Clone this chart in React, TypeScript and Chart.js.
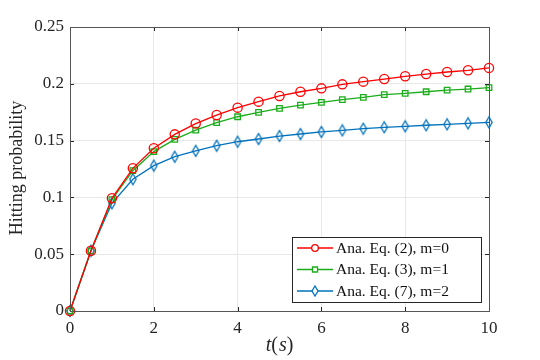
import React, { useEffect, useRef } from "react";
import { Chart, registerables } from "chart.js";
Chart.register(...registerables);

const tValues = [0, 0.5, 1, 1.5, 2, 2.5, 3, 3.5, 4, 4.5, 5, 5.5, 6, 6.5, 7, 7.5, 8, 8.5, 9, 9.5, 10];
const eq2m0 = [0, 0.053, 0.0992, 0.1256, 0.1432, 0.1555, 0.165, 0.1725, 0.179, 0.1843, 0.1893, 0.193, 0.196, 0.1995, 0.2019, 0.2042, 0.2066, 0.2086, 0.2104, 0.2119, 0.214];
const eq3m1 = [0, 0.053, 0.098, 0.1235, 0.1403, 0.1511, 0.1593, 0.1658, 0.171, 0.1749, 0.1784, 0.1813, 0.1837, 0.186, 0.188, 0.1904, 0.1916, 0.193, 0.1945, 0.1954, 0.1966];
const eq7m2 = [0, 0.053, 0.0948, 0.116, 0.128, 0.1358, 0.141, 0.1455, 0.149, 0.1514, 0.154, 0.1558, 0.1576, 0.159, 0.1605, 0.1617, 0.1626, 0.1635, 0.1643, 0.1652, 0.166];
const seriesLabels = ["Ana. Eq. (2), m=0", "Ana. Eq. (3), m=1", "Ana. Eq. (7), m=2"];
const yTicks = [0, 0.05, 0.1, 0.15, 0.2, 0.25];
const xTicks = [0, 2, 4, 6, 8, 10];

const SERIF = "'Liberation Serif', 'DejaVu Serif', serif";
const AXIS = "#262626";
const RED = "#ff0000";
const GREEN = "#1aad1a";
const BLUE = "#0072bd";

function makeDiamond(color: string): HTMLCanvasElement {
  const c = document.createElement("canvas");
  c.width = 10;
  c.height = 14;
  const g = c.getContext("2d")!;
  g.strokeStyle = color;
  g.lineWidth = 1.3;
  g.beginPath();
  g.moveTo(5, 1.5); g.lineTo(8.2, 7); g.lineTo(5, 12.5); g.lineTo(1.8, 7); g.closePath();
  g.stroke();
  return c;
}

const boxPlugin = {
  id: "matlabBox",
  afterDraw(chart: any) {
    const { ctx, chartArea: a, scales } = chart;
    ctx.save();
    ctx.strokeStyle = AXIS;
    ctx.lineWidth = 1;
    const tl = 4;
    ctx.beginPath();
    for (const v of xTicks) {
      const x = Math.round(scales.x.getPixelForValue(v)) + 0.5;
      ctx.moveTo(x, a.bottom); ctx.lineTo(x, a.bottom - tl);
      ctx.moveTo(x, a.top); ctx.lineTo(x, a.top + tl);
    }
    for (const v of yTicks) {
      const y = Math.round(scales.y.getPixelForValue(v)) + 0.5;
      ctx.moveTo(a.left, y); ctx.lineTo(a.left + tl, y);
      ctx.moveTo(a.right, y); ctx.lineTo(a.right - tl, y);
    }
    ctx.stroke();
    ctx.strokeStyle = "#555";
    ctx.strokeRect(Math.round(a.left) + 0.5, Math.round(a.top) + 0.5, Math.round(a.right - a.left), Math.round(a.bottom - a.top));

    // y title
    ctx.fillStyle = AXIS;
    ctx.font = `18px ${SERIF}`;
    ctx.textAlign = "center";
    ctx.textBaseline = "middle";
    ctx.translate(17, 168);
    ctx.rotate(-Math.PI / 2);
    ctx.fillText("Hitting probability", 0, 0);
    ctx.setTransform(1, 0, 0, 1, 0, 0);

    // x title t(s)
    const parts: [string, boolean][] = [["t", true], ["(", false], ["s", true], [")", false]];
    let total = 0;
    const widths = parts.map(([s, it]) => {
      ctx.font = `${it ? "italic " : ""}20px ${SERIF}`;
      const w = ctx.measureText(s).width + (s === "(" ? 1 : 0);
      total += w;
      return w;
    });
    let xx = (a.left + a.right) / 2 - total / 2;
    ctx.textAlign = "left";
    ctx.textBaseline = "middle";
    parts.forEach(([s, it], i) => {
      ctx.font = `${it ? "italic " : ""}20px ${SERIF}`;
      ctx.fillText(s, xx, 346);
      xx += widths[i];
    });

    // legend
    const lx = 292.5, ly = 237.5, lw = 189, lh = 65;
    ctx.fillStyle = "#fff";
    ctx.fillRect(lx, ly, lw, lh);
    ctx.strokeStyle = AXIS;
    ctx.lineWidth = 1;
    ctx.strokeRect(lx, ly, lw, lh);
    const rows = [248, 269.5, 291];
    const colors = [RED, GREEN, BLUE];
    colors.forEach((col, i) => {
      const y = rows[i];
      ctx.strokeStyle = col;
      ctx.lineWidth = 1.3;
      ctx.beginPath();
      ctx.moveTo(297, y); ctx.lineTo(333, y);
      ctx.stroke();
      ctx.beginPath();
      if (i === 0) {
        ctx.arc(315, y, 3.3, 0, Math.PI * 2);
      } else if (i === 1) {
        ctx.rect(312.5, y - 2.5, 5, 5);
      } else {
        ctx.moveTo(315, y - 5); ctx.lineTo(318, y); ctx.lineTo(315, y + 5); ctx.lineTo(312, y); ctx.closePath();
      }
      ctx.fillStyle = "#fff";
      ctx.fill();
      ctx.stroke();
      ctx.fillStyle = "#111";
      ctx.font = `15.5px ${SERIF}`;
      ctx.textAlign = "left";
      ctx.textBaseline = "middle";
      ctx.fillText(seriesLabels[i], 336, y + 0.5);
    });
    ctx.restore();
  },
};

export default function App() {
  const ref = useRef<HTMLCanvasElement>(null);
  useEffect(() => {
    if (!ref.current) return;
    const mk = (vals: number[]) => tValues.map((t, i) => ({ x: t, y: vals[i] }));
    const diamond = makeDiamond(BLUE);
    const chart = new Chart(ref.current, {
      type: "line",
      data: {
        datasets: [
          { label: seriesLabels[0], data: mk(eq2m0), borderColor: RED, backgroundColor: "rgba(255,255,255,0)", pointStyle: "circle", pointRadius: 4.6, pointBorderWidth: 1.3, borderWidth: 1.3, clip: false },
          { label: seriesLabels[1], data: mk(eq3m1), borderColor: GREEN, backgroundColor: "rgba(255,255,255,0)", pointStyle: "rect", pointRadius: 3.9, pointBorderWidth: 1.3, borderWidth: 1.3, clip: false },
          { label: seriesLabels[2], data: mk(eq7m2), borderColor: BLUE, backgroundColor: "rgba(255,255,255,0)", pointStyle: diamond, pointRadius: 5, borderWidth: 1.3, clip: false },
        ] as any,
      },
      options: {
        animation: false,
        responsive: false,
        maintainAspectRatio: false,
        layout: { padding: { left: 0, top: 27, right: 51, bottom: 0 } },
        plugins: { legend: { display: false }, tooltip: { enabled: false } },
        scales: {
          x: {
            type: "linear", min: 0, max: 10,
            afterBuildTicks: (s: any) => { s.ticks = xTicks.map((v) => ({ value: v })); },
            afterFit: (s: any) => { s.height = 49; },
            ticks: { color: AXIS, font: { family: SERIF, size: 17 }, padding: 7, maxRotation: 0 },
            grid: { color: "#e8e8e8", drawTicks: false },
            border: { display: false },
          },
          y: {
            type: "linear", min: 0, max: 0.25,
            afterBuildTicks: (s: any) => { s.ticks = yTicks.map((v) => ({ value: v })); },
            afterFit: (s: any) => { s.width = 70; },
            ticks: { color: AXIS, font: { family: SERIF, size: 17 }, padding: 6, callback: (v: any) => String(Math.round(Number(v) * 100) / 100) },
            grid: { color: "#e8e8e8", drawTicks: false },
            border: { display: false },
          },
        },
      } as any,
      plugins: [boxPlugin],
    });
    return () => chart.destroy();
  }, []);
  return (
    <div style={{ position: "fixed", left: 0, top: 0, width: 540, height: 360, background: "#fff" }}>
      <canvas ref={ref} width={540} height={360} style={{ width: 540, height: 360 }} />
    </div>
  );
}
